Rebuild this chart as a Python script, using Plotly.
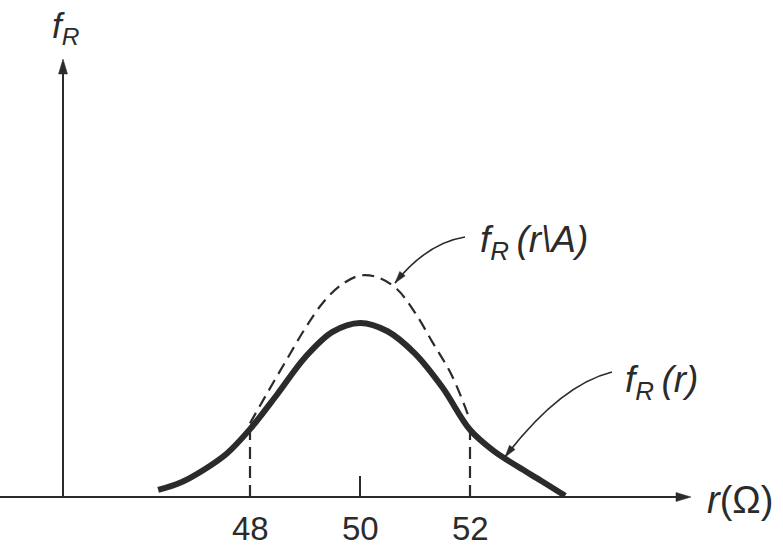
import math
import plotly.graph_objects as go

# Unconditional resistance density f_R(r)
r_all = [46.33, 46.75, 47.17, 47.58, 48.0, 48.5, 49.0, 49.5, 50.0,
         50.5, 51.0, 51.5, 52.0, 52.43, 52.86, 53.3, 53.73]
f_all = [0.011, 0.023, 0.043, 0.068, 0.106, 0.161, 0.218, 0.258, 0.272,
         0.259, 0.224, 0.171, 0.105, 0.072, 0.048, 0.025, 0.002]

# Conditional density f_R(r|A), A = {48 <= r <= 52}
r_cond = [48.0, 48.33, 48.67, 49.0, 49.33, 49.67, 50.0, 50.33, 50.67,
          51.0, 51.33, 51.67, 52.0]
f_cond = [0.115, 0.165, 0.215, 0.263, 0.304, 0.332, 0.346, 0.343, 0.325,
          0.288, 0.240, 0.190, 0.120]

# Interval limits and axis tick labels
limits = [48.0, 52.0]
tick_vals = [48, 50, 52]
tick_text = ["48", "50", "52"]

W, H = 783, 550
INK = "#2b2b2b"
FONT = "Liberation Sans, Arial, sans-serif"
DASH = "12px,7px"
THIN = "\u2009"

# pixel <-> data mapping
X_REF, X_REF_PX, PX_PER_R = 50.0, 360.0, 55.0
BASE_PX, PX_PER_F = 497.0, 640.0


def xd(px):
    return X_REF + (px - X_REF_PX) / PX_PER_R


def yd(py):
    return (BASE_PX - py) / PX_PER_F


def head_path(tip, ctrl, length=13.0, width=8.0):
    """Filled triangular arrowhead pointing from ctrl toward tip (pixels)."""
    dx, dy = tip[0] - ctrl[0], tip[1] - ctrl[1]
    n = math.hypot(dx, dy)
    ux, uy = dx / n, dy / n
    bx, by = tip[0] - ux * length, tip[1] - uy * length
    px, py = -uy * width / 2, ux * width / 2
    pts = [tip, (bx + px, by + py), (bx - px, by - py)]
    return "M " + " L ".join(f"{xd(x):.5f},{yd(y):.5f}" for x, y in pts) + " Z"


def curve_path(p0, c, p1):
    return (f"M {xd(p0[0]):.5f},{yd(p0[1]):.5f} "
            f"Q {xd(c[0]):.5f},{yd(c[1]):.5f} {xd(p1[0]):.5f},{yd(p1[1]):.5f}")


fig = go.Figure()

# conditional density (dashed)
fig.add_trace(go.Scatter(
    x=r_cond, y=f_cond, mode="lines",
    line=dict(color=INK, width=2.2, dash=DASH, shape="spline", smoothing=1.0),
    hoverinfo="skip"))

# dashed verticals at the interval limits, up to f_R(r)
for lim in limits:
    k = r_all.index(lim)
    fig.add_trace(go.Scatter(
        x=[lim, lim], y=[0, f_all[k]], mode="lines",
        line=dict(color=INK, width=2.2, dash=DASH),
        hoverinfo="skip"))

# small tick at the nominal value
fig.add_trace(go.Scatter(
    x=[tick_vals[1], tick_vals[1]], y=[0, yd(476)], mode="lines",
    line=dict(color=INK, width=2), hoverinfo="skip"))

# unconditional density (heavy)
fig.add_trace(go.Scatter(
    x=r_all, y=f_all, mode="lines",
    line=dict(color=INK, width=6, shape="spline", smoothing=1.0),
    hoverinfo="skip"))

shapes = []
# horizontal axis with arrow
shapes.append(dict(type="line", xref="x", yref="y",
                   x0=xd(-5), y0=0, x1=xd(680), y1=0,
                   line=dict(color=INK, width=2)))
shapes.append(dict(type="path", xref="x", yref="y",
                   path=head_path((691, BASE_PX), (600, BASE_PX), 15, 9),
                   fillcolor=INK, line=dict(color=INK, width=0.5)))
# vertical axis with arrow
shapes.append(dict(type="line", xref="x", yref="y",
                   x0=xd(63), y0=0, x1=xd(63), y1=yd(72),
                   line=dict(color=INK, width=2)))
shapes.append(dict(type="path", xref="x", yref="y",
                   path=head_path((63, 59), (63, 200), 15, 9),
                   fillcolor=INK, line=dict(color=INK, width=0.5)))

# curved leaders to the two curves
leaders = [((465, 237), (427, 243), (395, 283)),
           ((612, 372), (560, 385), (505, 457))]
for p0, c, p1 in leaders:
    shapes.append(dict(type="path", xref="x", yref="y",
                       path=curve_path(p0, c, p1),
                       line=dict(color=INK, width=1.6)))
    shapes.append(dict(type="path", xref="x", yref="y",
                       path=head_path(p1, c, 12, 7),
                       fillcolor=INK, line=dict(color=INK, width=0.5)))

annotations = []
for v, t in zip(tick_vals, tick_text):
    annotations.append(dict(x=v, y=yd(528), xref="x", yref="y", text=t,
                            showarrow=False, xanchor="center", yanchor="middle",
                            font=dict(size=33, color=INK, family=FONT)))

labels = [
    ("<i>f</i><sub><i>R</i></sub>", 50, 28, 35),
    (f"<i>f</i><sub><i>R</i></sub><i>{THIN}(r\\A)</i>", 478, 242, 37),
    (f"<i>f</i><sub><i>R</i></sub><i>{THIN}(r)</i>", 623, 382, 37),
    ("<i>r</i>(Ω)", 705, 500, 38),
]
for text, px, py, size in labels:
    annotations.append(dict(x=xd(px), y=yd(py), xref="x", yref="y", text=text,
                            showarrow=False, xanchor="left", yanchor="middle",
                            font=dict(size=size, color=INK, family=FONT)))

fig.update_layout(
    width=W, height=H, autosize=False,
    margin=dict(l=0, r=0, t=0, b=0),
    paper_bgcolor="white", plot_bgcolor="white",
    showlegend=False,
    xaxis=dict(range=[xd(0), xd(W)], visible=False, fixedrange=True),
    yaxis=dict(range=[yd(H), yd(0)], visible=False, fixedrange=True),
    shapes=shapes, annotations=annotations,
)

fig.write_html("out.html")
